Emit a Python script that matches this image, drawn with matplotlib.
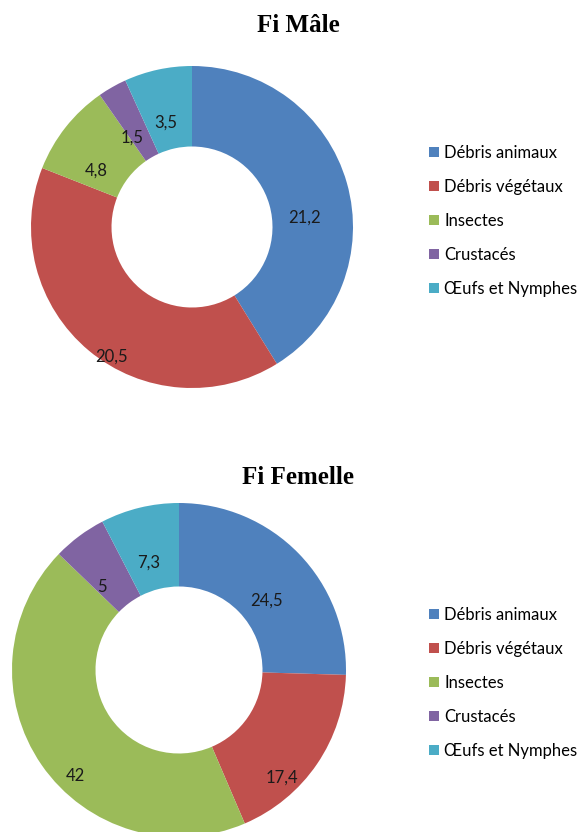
import matplotlib
matplotlib.use("Agg")
import matplotlib.pyplot as plt
import numpy as np
from matplotlib.patches import Patch

plt.rcParams["font.family"] = ["Lato", "DejaVu Sans"]

CATEGORIES = ["Débris animaux", "Débris végétaux", "Insectes", "Crustacés", "Œufs et Nymphes"]
MALE = [21.2, 20.5, 4.8, 1.5, 3.5]
FEMALE = [24.5, 17.4, 42, 5, 7.3]
MALE_LABELS = ["21,2", "20,5", "4,8", "1,5", "3,5"]
FEMALE_LABELS = ["24,5", "17,4", "42", "5", "7,3"]

COLORS = ["#4F81BD", "#C0504D", "#9BBB59", "#8064A2", "#4BACC6"]

# placement des étiquettes (rayon relatif, décalage d'angle en degrés) façon Excel
MALE_LBL = [(0.70, -11), (0.95, 8), (0.69, 8), (0.67, 4), (0.67, 2)]
FEMALE_LBL = [(0.67, -6), (0.89, -12), (0.89, 11), (0.68, 6), (0.67, 2)]

W, H = 582, 832
fig = plt.figure(figsize=(W / 100, H / 100), dpi=100)
fig.patch.set_facecolor("white")


def donut(cx, cy, r, values, labels, lbl_pos, title, title_y, legend_y):
    ax = fig.add_axes([(cx - r) / W, 1 - (cy + r) / H, 2 * r / W, 2 * r / H])
    wedges, _ = ax.pie(values, colors=COLORS, startangle=90, counterclock=False,
                       radius=1.0, wedgeprops=dict(width=0.5, linewidth=0))
    for w, txt, (rr, da) in zip(wedges, labels, lbl_pos):
        ang = np.deg2rad((w.theta1 + w.theta2) / 2 + da)
        ax.text(rr * np.cos(ang), rr * np.sin(ang), txt, ha="center", va="center",
                fontsize=12, color="#1a1a1a")
    ax.set_xlim(-1, 1)
    ax.set_ylim(-1, 1)
    ax.set_aspect("equal")
    ax.axis("off")

    fig.text(298 / W, 1 - title_y / H, title, ha="center", va="center",
             fontsize=18, fontweight="bold", family="Liberation Serif")

    handles = [Patch(facecolor=c, edgecolor="none") for c in COLORS]
    fig.legend(handles, CATEGORIES, loc="center left",
               bbox_to_anchor=(429 / W, 1 - legend_y / H), frameon=False,
               fontsize=12, handlelength=0.6, handleheight=0.6,
               handletextpad=0.3, labelspacing=1.08, borderpad=0, borderaxespad=0)


donut(192, 227, 161, MALE, MALE_LABELS, MALE_LBL, "Fi Mâle", 25, 221)
donut(179, 670, 167, FEMALE, FEMALE_LABELS, FEMALE_LBL, "Fi Femelle", 478, 683)

fig.savefig("out.png", dpi=100, facecolor="white")
